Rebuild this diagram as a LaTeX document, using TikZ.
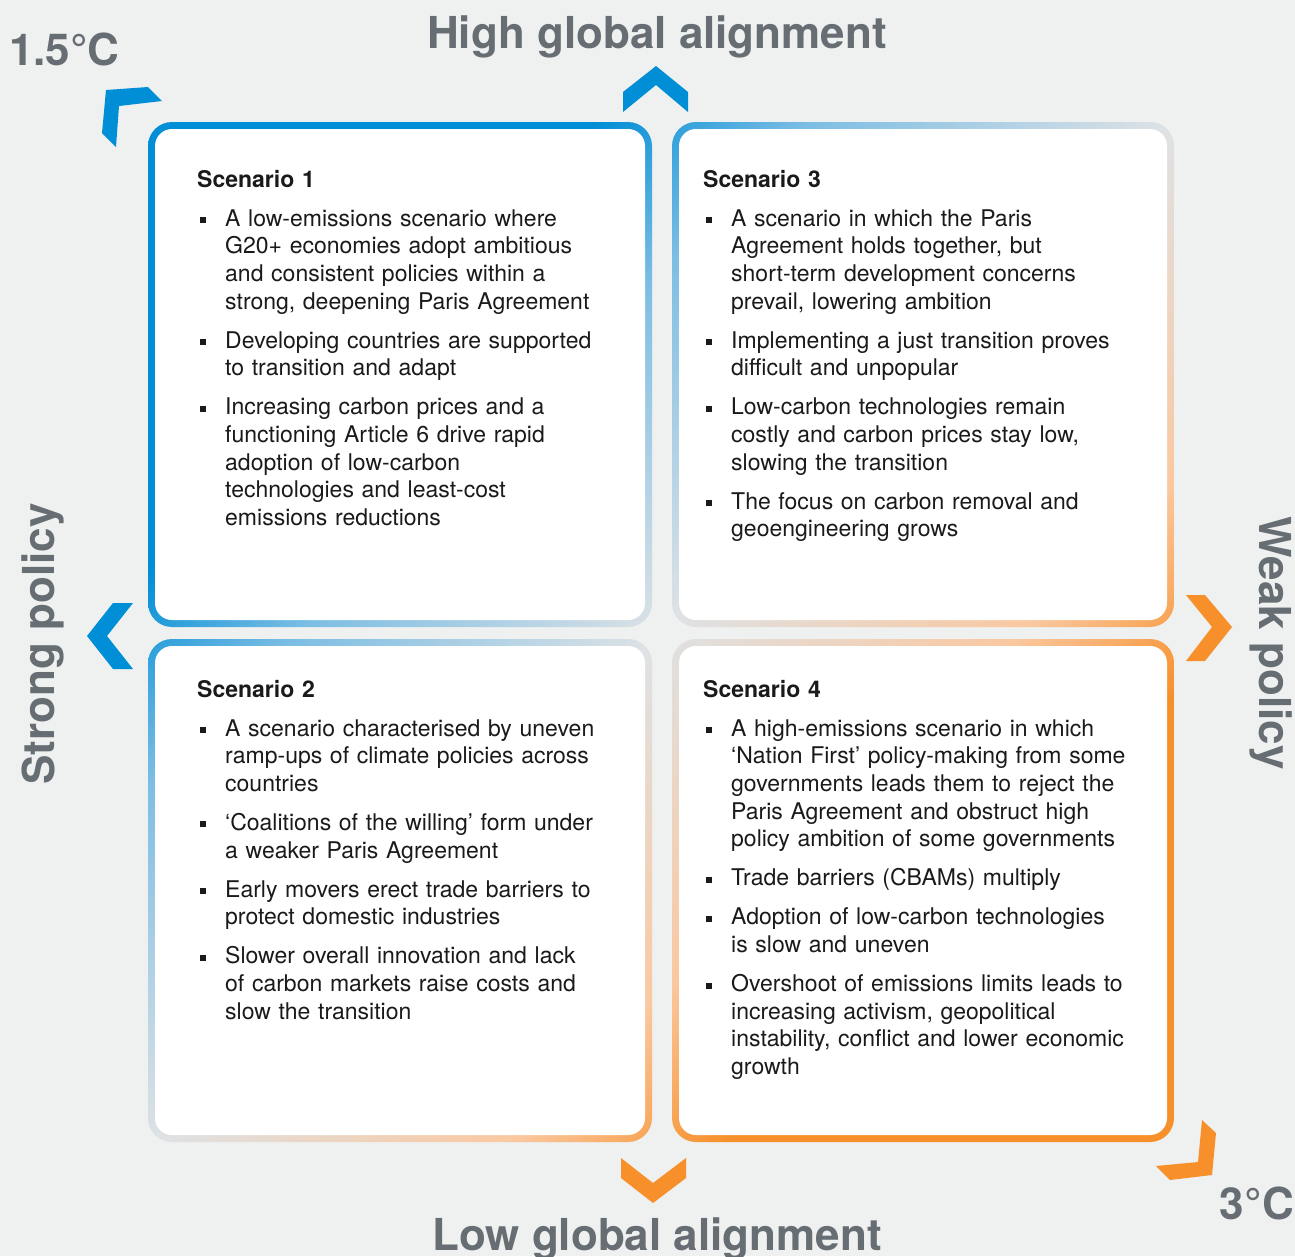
\documentclass[tikz,border=0pt]{standalone}
\usepackage{fontspec}
\setmainfont{TeX Gyre Heros}

\definecolor{bgc}{RGB}{239,240,240}
\definecolor{ink}{RGB}{103,110,115}
\definecolor{txt}{RGB}{26,26,26}
\definecolor{cblue}{RGB}{0,142,214}
\definecolor{corange}{RGB}{247,144,43}
\definecolor{lblue}{RGB}{125,190,228}
\definecolor{lgray}{RGB}{222,226,229}
\definecolor{lorange}{RGB}{250,200,160}

\pgfdeclarehorizontalshading{frame}{100bp}{color(0bp)=(cblue); color(25bp)=(cblue);
  color(30bp)=(cblue); color(37.5bp)=(lblue); color(50bp)=(lgray);
  color(62.5bp)=(lorange); color(70bp)=(corange); color(100bp)=(corange)}

\newcommand\itm[1]{\par\noindent\hangindent=28pt\hangafter=1%
  \makebox[28pt][l]{\hspace{3pt}\rule[3pt]{6pt}{6pt}}{\let\\\newline #1}\par\vspace{11.3pt}}

\begin{document}
\begin{tikzpicture}[x=1pt, y=-1pt,
  scen/.style={anchor=base west, text width=440pt, inner sep=0pt, align=left,
    text=txt, font=\fontsize{23}{27.7}\selectfont},
  axis/.style={inner sep=0pt, text=ink, font=\fontsize{44}{50}\selectfont\bfseries}]
\fill[bgc] (0,0) rectangle (1295,1256);
\useasboundingbox (0,0) rectangle (1295,1256);

\foreach \n/\xa/\ya/\xb/\yb in {1/148/122/652/627, 3/672/122/1174/627,
                               2/148/639/652/1142, 4/672/639/1174/1142} {
	\coordinate (b\n a) at (\xa,\ya);
	\coordinate (b\n b) at (\xb,\yb);
}
\begin{scope}
	\clip[rounded corners=24] (b1a) rectangle (b1b) (b2a) rectangle (b2b)
		(b3a) rectangle (b3b) (b4a) rectangle (b4b);
	\shade[shading=frame, shading angle=-45] (b1a) rectangle (b4b);
\end{scope}
\foreach \n in {1,...,4}
	\fill[white, rounded corners=17] ([shift={(7,7)}]b\n a) rectangle ([shift={(-7,-7)}]b\n b);

\node[scen] (s1) at (197,187) {{\bfseries Scenario 1}\par\vspace{11.3pt}
	\itm{A low-emissions scenario where\\G20+ economies adopt ambitious\\and consistent policies within a\\strong, deepening Paris Agreement}
	\itm{Developing countries are supported\\to transition and adapt}
	\itm{Increasing carbon prices and a\\functioning Article 6 drive rapid\\adoption of low-carbon\\technologies and least-cost\\emissions reductions}};
\node[scen] (s3) at (703,187) {{\bfseries Scenario 3}\par\vspace{11.3pt}
	\itm{A scenario in which the Paris\\Agreement holds together, but\\short-term development concerns\\prevail, lowering ambition}
	\itm{Implementing a just transition proves\\difficult and unpopular}
	\itm{Low-carbon technologies remain\\costly and carbon prices stay low,\\slowing the transition}
	\itm{The focus on carbon removal and\\geoengineering grows}};
\node[scen] (s2) at (197,697) {{\bfseries Scenario 2}\par\vspace{11.3pt}
	\itm{A scenario characterised by uneven\\ramp-ups of climate policies across\\countries}
	\itm{‘Coalitions of the willing’ form under\\a weaker Paris Agreement}
	\itm{Early movers erect trade barriers to\\protect domestic industries}
	\itm{Slower overall innovation and lack\\of carbon markets raise costs and\\slow the transition}};
\node[scen] (s4) at (703,697) {{\bfseries Scenario 4}\par\vspace{11.3pt}
	\itm{A high-emissions scenario in which\\‘Nation First’ policy-making from some\\governments leads them to reject the\\Paris Agreement and obstruct high\\policy ambition of some governments}
	\itm{Trade barriers (CBAMs) multiply}
	\itm{Adoption of low-carbon technologies\\is slow and uneven}
	\itm{Overshoot of emissions limits leads to\\increasing activism, geopolitical\\instability, conflict and lower economic\\growth}};

\node[axis, anchor=base] (high) at (657,48) {High global alignment};
\node[axis, anchor=base] (low) at (657,1250) {Low global alignment};
\node[axis, anchor=base, rotate=90] (strong) at (54,644) {Strong policy};
\node[axis, anchor=base, rotate=-90] (weak) at (1259,643) {Weak policy};
\node[axis, anchor=base west] (cool) at (9,65) {1.5°C};
\node[axis, anchor=base east] (warm) at (1294,1219) {3°C};

\fill[cblue] (623,112) -- (623,92) -- (656,66) -- (688,92) -- (688,112) -- (656,85) -- cycle;
\fill[cblue] (87,636) -- (113,603) -- (133,603) -- (107,636) -- (133,669) -- (113,669) -- cycle;
\fill[cblue] (106,90) -- (148,87) -- (162,101) -- (119,106) -- (116,147) -- (102,133) -- cycle;
\fill[corange] (1186,595) -- (1205,595) -- (1232,627) -- (1205,661) -- (1186,661) -- (1212,627) -- cycle;
\fill[corange] (621,1158) -- (653,1183) -- (686,1158) -- (686,1178) -- (653,1203) -- (621,1178) -- cycle;
\fill[corange] (1202,1120) -- (1216,1133) -- (1212,1175) -- (1170,1180) -- (1156,1166) -- (1198,1162) -- cycle;
\end{tikzpicture}
\end{document}
